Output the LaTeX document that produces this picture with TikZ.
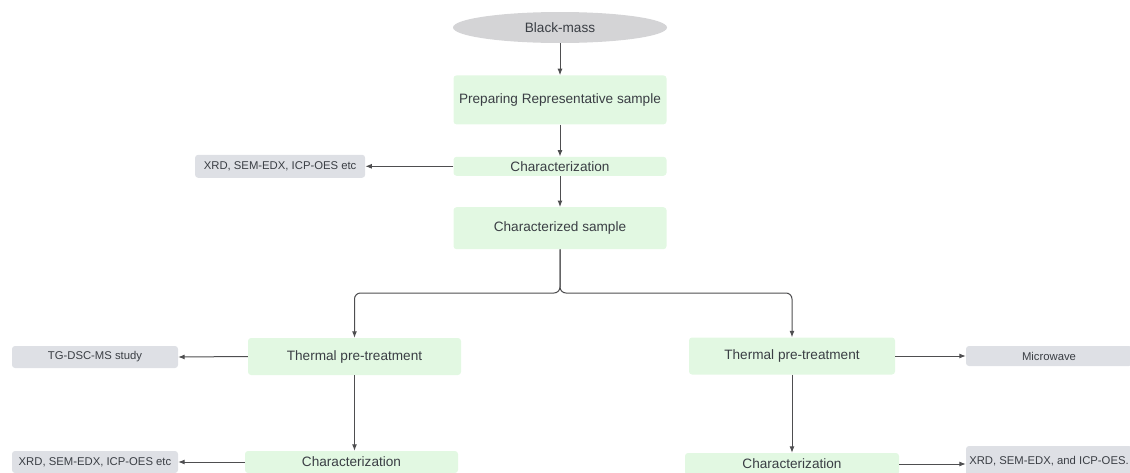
\documentclass[tikz,border=0pt]{standalone}
\usepackage{fontspec}
\setsansfont{Liberation Sans}
\usetikzlibrary{arrows.meta,positioning,shapes.geometric}
\definecolor{stepgreen}{RGB}{226,248,226}
\definecolor{toolgray}{RGB}{222,224,229}
\definecolor{massgray}{RGB}{212,212,214}
\definecolor{inkgray}{RGB}{58,62,68}
\definecolor{wiregray}{RGB}{78,78,80}

\begin{document}
\begin{tikzpicture}[
  x=1pt, y=-1pt,
  font=\sffamily\fontsize{13.6}{16}\selectfont,
  >={Latex[length=6.5pt,width=5pt]},
  stepbox/.style={fill=stepgreen, rounded corners=3pt, inner sep=0pt, text=inkgray, minimum width=213pt, align=center},
  toolbox/.style={fill=toolgray, rounded corners=3pt, inner sep=0pt, text=inkgray, minimum width=166pt, minimum height=22pt,
    font=\sffamily\fontsize{11.3}{13}\selectfont},
  massnode/.style={ellipse, fill=massgray, inner sep=0pt, text=inkgray, minimum width=214pt, minimum height=31pt},
  flow/.style={->, line width=1pt, draw=wiregray}
]
\useasboundingbox (0,0) rectangle (1130,472);

% Main column
\node[massnode] (mass) at (560,27.5) {Black-mass};
\node[stepbox, minimum height=49pt, below=32pt of mass] (prep) {Preparing Representative sample};
\node[stepbox, minimum height=19pt, below=32pt of prep] (charA) {Characterization};
\node[stepbox, minimum height=42pt, below=31pt of charA] (sample) {Characterized sample};
\node[toolbox, minimum width=170pt, minimum height=23pt, left=88pt of charA] (xrdA) {XRD, SEM-EDX, ICP-OES etc};

% Left branch
\node[stepbox, minimum height=37pt] (thermL) at (354.5,356.5) {Thermal pre-treatment};
\node[stepbox, minimum height=22pt] (charL) at (351.5,462) {Characterization};
\node[toolbox] (tgdsc) at (95,357) {TG-DSC-MS study};
\node[toolbox] (xrdB) at (95,462) {XRD, SEM-EDX, ICP-OES etc};

% Right branch
\node[stepbox, minimum width=206pt, minimum height=37pt] (thermR) at (792,356) {Thermal pre-treatment};
\node[stepbox, minimum width=214pt, minimum height=22pt] (charR) at (792,464) {Characterization};
\node[toolbox, minimum height=20pt] (micro) at (1049,356) {Microwave};
\node[toolbox, minimum height=31pt] (xrdC) at (1049,461.5) {XRD, SEM-EDX, and ICP-OES.};

\coordinate (split) at (560,293);

% Arrows
\draw[flow] (mass.south) -- (prep.north);
\draw[flow] (prep.south) -- (charA.north);
\draw[flow] (charA.south) -- (sample.north);
\draw[flow] (charA.west) -- (xrdA.east);
\draw[flow, rounded corners=6pt] (sample.south) -- (split) -| (thermL.north);
\draw[flow, rounded corners=6pt] (sample.south) -- (split) -| (thermR.north);
\draw[flow] (thermL.west) -- (tgdsc.east);
\draw[flow] (thermL.south) -- (thermL.south |- charL.north);
\draw[flow] (charL.west) -- (xrdB.east);
\draw[flow] (thermR.east) -- (micro.west);
\draw[flow] (thermR.south) -- (charR.north);
\draw[flow] (charR.east) -- (charR.east -| xrdC.west);

\end{tikzpicture}
\end{document}
